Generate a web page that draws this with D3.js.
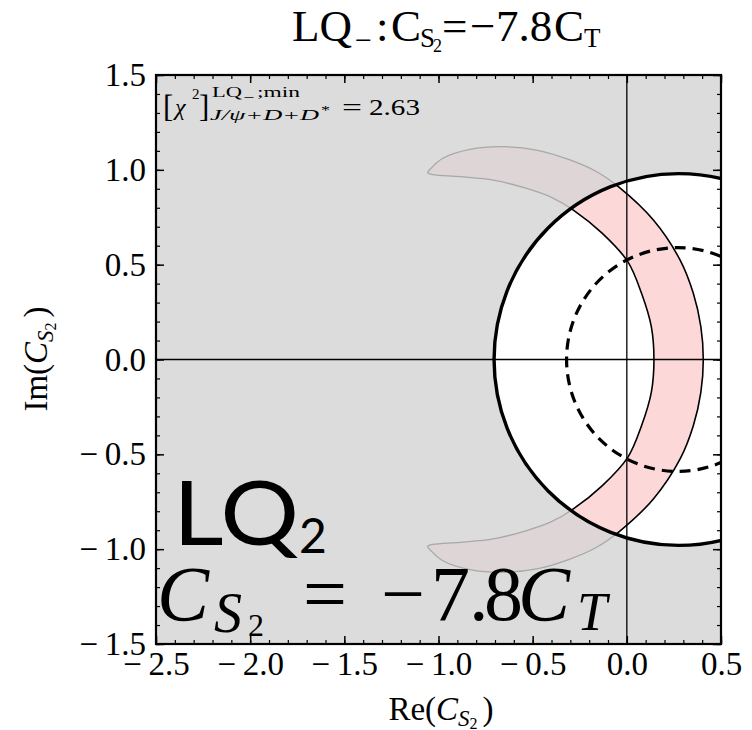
<!DOCTYPE html>
<html>
<head>
<meta charset="utf-8">
<script src="https://cdn.jsdelivr.net/npm/d3@7"></script>
<style>
  body { margin: 0; background: #fff; }
  svg { display: block; }
</style>
</head>
<body>
<svg id="chart" width="752" height="730"></svg>
<script>
// ---- axis ranges and ticks ----
const reDomain = [-2.5, 0.5];
const imDomain = [-1.5, 1.5];
const reMajorTicks = [-2.5, -2.0, -1.5, -1.0, -0.5, 0.0, 0.5];
const imMajorTicks = [-1.5, -1.0, -0.5, 0.0, 0.5, 1.0, 1.5];
const reTickLabels = ["\u2212\u20092.5", "\u2212\u20092.0", "\u2212\u20091.5", "\u2212\u20091.0", "\u2212\u20090.5", "0.0", "0.5"];
const imTickLabels = ["\u2212\u20091.5", "\u2212\u20091.0", "\u2212\u20090.5", "0.0", "0.5", "1.0", "1.5"];

// ---- constraint circles in the complex C_S2 plane ----
const solidCircle = { re: 0.275, im: 0.0, r: 0.98 };
const dashedCircle = { re: 0.27, im: 0.0, r: 0.59 };

// ---- allowed band (upper half; the lower half is its mirror image) ----
// outer edge, from Im = 0 towards the tip
const bandOuterUpper = [
  [0.406, 0.000], [0.393, 0.173], [0.353, 0.349], [0.283, 0.524], [0.141, 0.735],
  [-0.045, 0.911], [-0.160, 0.990], [-0.302, 1.052], [-0.479, 1.104], [-0.656, 1.122],
  [-0.833, 1.108], [-0.977, 1.061], [-1.040, 1.008]
];
const bandTip = [-1.058, 0.985];
// inner edge, from the tip back to Im = 0
const bandInnerUpper = [
  [-1.030, 0.975], [-0.886, 0.964], [-0.709, 0.946], [-0.532, 0.902], [-0.400, 0.855],
  [-0.284, 0.788], [-0.130, 0.665], [0.005, 0.516], [0.078, 0.349], [0.130, 0.173],
  [0.144, 0.000]
];
const chi2Min = "2.63";

// ---- setup ----
const serif = "'Liberation Serif', 'Times New Roman', serif";
const svg = d3.select("#chart");
const x = d3.scaleLinear().domain(reDomain).range([156, 721]);
const y = d3.scaleLinear().domain(imDomain).range([644, 75]);

const defs = svg.append("defs");
defs.append("clipPath").attr("id", "plotClip")
  .append("rect")
  .attr("x", x(reDomain[0])).attr("y", y(imDomain[1]))
  .attr("width", x(reDomain[1]) - x(reDomain[0]))
  .attr("height", y(imDomain[0]) - y(imDomain[1]));

const ellipseAttrs = (sel, c) => sel
  .attr("cx", x(c.re)).attr("cy", y(c.im))
  .attr("rx", x(c.re + c.r) - x(c.re))
  .attr("ry", y(c.im) - y(c.im + c.r));

defs.append("clipPath").attr("id", "diskClip")
  .append("ellipse").call(ellipseAttrs, solidCircle);

// band ring as a closed outline
const mirror = d => [d[0], -d[1]];
const bandRing = [
  bandTip,
  ...bandOuterUpper.slice().reverse(),
  ...bandOuterUpper.slice(1).map(mirror),
  mirror(bandTip),
  ...bandInnerUpper.map(mirror),
  ...bandInnerUpper.slice(0, -1).reverse()
];
const bandLine = d3.line()
  .x(d => x(d[0])).y(d => y(d[1]))
  .curve(d3.curveCatmullRomClosed.alpha(0.5));

const plot = svg.append("g").attr("clip-path", "url(#plotClip)");

// background
plot.append("rect")
  .attr("x", x(reDomain[0])).attr("y", y(imDomain[1]))
  .attr("width", x(reDomain[1]) - x(reDomain[0]))
  .attr("height", y(imDomain[0]) - y(imDomain[1]))
  .attr("fill", "#dcdcdc");

// band outside the allowed disk
plot.append("path")
  .attr("d", bandLine(bandRing))
  .attr("fill", "#ddd5d6")
  .attr("stroke", "#a8a8a8")
  .attr("stroke-width", 1.3);

// allowed disk
plot.append("ellipse").call(ellipseAttrs, solidCircle)
  .attr("fill", "#ffffff");

// band inside the allowed disk
plot.append("g").attr("clip-path", "url(#diskClip)")
  .append("path")
  .attr("d", bandLine(bandRing))
  .attr("fill", "#fdd8d9")
  .attr("stroke", "#000")
  .attr("stroke-width", 1.6);

// dashed circle
plot.append("ellipse").call(ellipseAttrs, dashedCircle)
  .attr("fill", "none")
  .attr("stroke", "#000")
  .attr("stroke-width", 3.2)
  .attr("stroke-dasharray", "11,7");

// zero lines
plot.append("line")
  .attr("x1", x(0)).attr("x2", x(0))
  .attr("y1", y(imDomain[0])).attr("y2", y(imDomain[1]))
  .attr("stroke", "#000").attr("stroke-width", 1.3);
plot.append("line")
  .attr("x1", x(reDomain[0])).attr("x2", x(reDomain[1]))
  .attr("y1", y(0)).attr("y2", y(0))
  .attr("stroke", "#000").attr("stroke-width", 1.3);

// solid circle
plot.append("ellipse").call(ellipseAttrs, solidCircle)
  .attr("fill", "none")
  .attr("stroke", "#000")
  .attr("stroke-width", 3.4);

// ---- axes (ticks pointing inwards on all four sides) ----
const x0 = x(reDomain[0]), x1 = x(reDomain[1]);
const y0 = y(imDomain[0]), y1 = y(imDomain[1]);

function styleAxis(g, width) {
  g.select(".domain").remove();
  g.selectAll(".tick line").attr("stroke", "#000").attr("stroke-width", width);
  g.selectAll(".tick text")
    .attr("font-family", serif)
    .attr("font-size", 33)
    .attr("fill", "#000");
}
const minorRe = x.ticks(30);
const minorIm = y.ticks(30);

// bottom
svg.append("g").attr("transform", `translate(0,${y0})`)
  .call(d3.axisBottom(x).tickValues(minorRe).tickFormat("").tickSizeInner(-4).tickSizeOuter(0))
  .call(g => styleAxis(g, 1.2));
svg.append("g").attr("transform", `translate(0,${y0})`)
  .call(d3.axisBottom(x).tickValues(reMajorTicks).tickFormat((d, i) => reTickLabels[i])
    .tickSizeInner(-8).tickSizeOuter(0).tickPadding(8))
  .call(g => styleAxis(g, 1.5));
// top
svg.append("g").attr("transform", `translate(0,${y1})`)
  .call(d3.axisTop(x).tickValues(minorRe).tickFormat("").tickSizeInner(-4).tickSizeOuter(0))
  .call(g => styleAxis(g, 1.2));
svg.append("g").attr("transform", `translate(0,${y1})`)
  .call(d3.axisTop(x).tickValues(reMajorTicks).tickFormat("").tickSizeInner(-8).tickSizeOuter(0))
  .call(g => styleAxis(g, 1.5));
// left
svg.append("g").attr("transform", `translate(${x0},0)`)
  .call(d3.axisLeft(y).tickValues(minorIm).tickFormat("").tickSizeInner(-4).tickSizeOuter(0))
  .call(g => styleAxis(g, 1.2));
svg.append("g").attr("transform", `translate(${x0},0)`)
  .call(d3.axisLeft(y).tickValues(imMajorTicks).tickFormat((d, i) => imTickLabels[i])
    .tickSizeInner(-8).tickSizeOuter(0).tickPadding(10))
  .call(g => styleAxis(g, 1.5));
// right
svg.append("g").attr("transform", `translate(${x1},0)`)
  .call(d3.axisRight(y).tickValues(minorIm).tickFormat("").tickSizeInner(-4).tickSizeOuter(0))
  .call(g => styleAxis(g, 1.2));
svg.append("g").attr("transform", `translate(${x1},0)`)
  .call(d3.axisRight(y).tickValues(imMajorTicks).tickFormat("").tickSizeInner(-8).tickSizeOuter(0))
  .call(g => styleAxis(g, 1.5));

// frame
svg.append("rect")
  .attr("x", x0).attr("y", y1)
  .attr("width", x1 - x0).attr("height", y0 - y1)
  .attr("fill", "none").attr("stroke", "#000").attr("stroke-width", 2.2);

// ---- text helpers ----
// each piece: text, x, baseline y, size, italic flag, optional stretched width
function pieces(parent, list, family) {
  const g = parent.append("g").attr("font-family", family || serif).attr("fill", "#000");
  list.forEach(p => {
    const t = g.append("text")
      .attr("x", p.x).attr("y", p.y)
      .attr("font-size", p.s)
      .attr("font-style", p.i ? "italic" : "normal")
      .text(p.t);
    if (p.len) t.attr("textLength", p.len).attr("lengthAdjust", "spacingAndGlyphs");
  });
  return g;
}

// title
pieces(svg, [
  { t: "LQ", x: 292, y: 41, s: 45 },
  { t: "\u2212", x: 355, y: 50, s: 30 },
  { t: ":", x: 376, y: 41, s: 45 },
  { t: "C", x: 391, y: 41, s: 45 },
  { t: "S", x: 420, y: 47, s: 27 },
  { t: "2", x: 433, y: 52, s: 18 },
  { t: "=", x: 442, y: 41, s: 45 },
  { t: "\u2212", x: 470, y: 41, s: 45 },
  { t: "7.8", x: 496, y: 41, s: 45 },
  { t: "C", x: 554, y: 41, s: 45 },
  { t: "T", x: 584, y: 47, s: 27 }
]);

// axis titles
function axisTitle(g) {
  g.attr("font-family", serif).attr("fill", "#000").attr("text-anchor", "middle").attr("font-size", 33);
  return g;
}
const xt = axisTitle(svg.append("text").attr("x", 441).attr("y", 720));
xt.append("tspan").text("Re(");
xt.append("tspan").attr("font-style", "italic").text("C");
xt.append("tspan").attr("font-style", "italic").attr("font-size", 23).attr("dy", 6).text("S");
xt.append("tspan").attr("font-size", 16).attr("dy", 3).text("2");
xt.append("tspan").attr("dy", -9).attr("dx", 5).text(")");

const yt = axisTitle(svg.append("text").attr("transform", "translate(47,359) rotate(-90)"));
yt.append("tspan").text("Im(");
yt.append("tspan").attr("font-style", "italic").text("C");
yt.append("tspan").attr("font-style", "italic").attr("font-size", 23).attr("dy", 6).text("S");
yt.append("tspan").attr("font-size", 16).attr("dy", 3).text("2");
yt.append("tspan").attr("dy", -9).attr("dx", 5).text(")");

// chi-square annotation
pieces(svg, [
  { t: "[", x: 163, y: 117, s: 31 },
  { t: "\u03C7", x: 175, y: 115, s: 24, i: true },
  { t: "2", x: 192, y: 99, s: 15 },
  { t: "]", x: 199, y: 117, s: 31 },
  { t: "LQ", x: 212, y: 97, s: 14, len: 30 },
  { t: "\u2212", x: 243, y: 101, s: 11, len: 11 },
  { t: ";min", x: 257, y: 97, s: 14, len: 43 },
  { t: "J/\u03C8+D+D", x: 210, y: 120, s: 15, i: true, len: 109 },
  { t: "*", x: 321, y: 114, s: 13, len: 9 },
  { t: "=", x: 342, y: 115, s: 24, len: 20 },
  { t: chi2Min, x: 369, y: 115, s: 24, len: 51 }
]);

// large labels
pieces(svg, [
  { t: "LQ", x: 173, y: 545, s: 90, len: 126 },
  { t: "2", x: 299, y: 553, s: 48 }
], "Lato, 'Open Sans', sans-serif");

pieces(svg, [
  { t: "C", x: 157, y: 620, s: 78, i: true },
  { t: "S", x: 214, y: 632, s: 56, i: true },
  { t: "2", x: 248, y: 636, s: 32 },
  { t: "=", x: 303, y: 620, s: 78 },
  { t: "\u2212", x: 381, y: 620, s: 78 },
  { t: "7", x: 431, y: 620, s: 78 },
  { t: ".", x: 469, y: 620, s: 78 },
  { t: "8", x: 484, y: 620, s: 78 },
  { t: "C", x: 518, y: 620, s: 78, i: true },
  { t: "T", x: 577, y: 630, s: 54, i: true }
]);
</script>
</body>
</html>
